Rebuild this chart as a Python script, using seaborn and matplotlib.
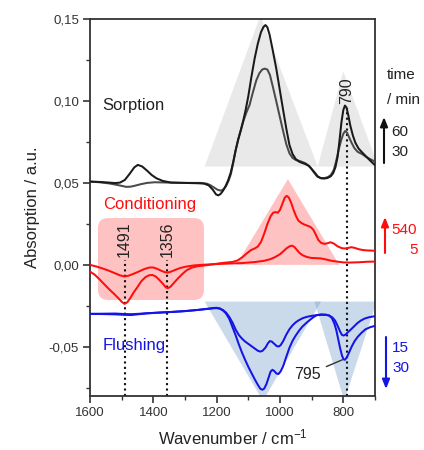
import matplotlib
matplotlib.use("Agg")
import matplotlib.pyplot as plt
import seaborn as sns
from matplotlib.patches import FancyBboxPatch, FancyArrowPatch
from matplotlib.ticker import FuncFormatter, MultipleLocator

# ---------------- data ----------------
# Sorption (black) : 60 min and 30 min
s60_wn = [1600,1570,1540,1520,1505,1490,1475,1460,1449,1435,1420,1405,1390,1370,1344,1300,1260,1240,1225,1212,1202,1195,1188,1180,1172,1164,1156,1148,1140,1132,1124,1116,1108,1100,1090,1080,1070,1060,1052,1046,1040,1033,1024,1012,1000,991,980,970,960,950,940,930,920,910,900,890,880,870,860,850,840,832,825,818,812,806,800,795,790,784,778,770,762,752,740,725,712,700]
s60 = [0.0508,0.0506,0.0502,0.0499,0.0502,0.0518,0.0555,0.0595,0.0610,0.0600,0.0575,0.0548,0.0528,0.0512,0.0502,0.0500,0.0498,0.0496,0.0485,0.0458,0.0430,0.0424,0.0432,0.0452,0.0480,0.0515,0.0560,0.0625,0.0700,0.0765,0.0820,0.0880,0.0950,0.1030,0.1150,0.1260,0.1350,0.1420,0.1452,0.1463,0.1450,0.1405,0.1320,0.1200,0.1060,0.0955,0.0830,0.0730,0.0675,0.0645,0.0630,0.0622,0.0615,0.0605,0.0585,0.0562,0.0538,0.0528,0.0527,0.0530,0.0540,0.0560,0.0595,0.0660,0.0760,0.0870,0.0945,0.0972,0.0960,0.0910,0.0850,0.0790,0.0745,0.0710,0.0685,0.0655,0.0630,0.0608]
s30_wn = [1600,1570,1540,1515,1500,1486,1472,1460,1440,1420,1396,1350,1300,1250,1230,1218,1207,1196,1186,1178,1170,1162,1155,1148,1140,1132,1124,1116,1106,1096,1086,1075,1065,1056,1048,1040,1032,1023,1012,1002,990,980,970,960,950,940,930,920,907,895,883,872,860,848,839,830,823,815,807,800,794,788,781,774,765,755,740,729,715,700]
s30 = [0.0508,0.0504,0.0497,0.0488,0.0482,0.0476,0.0477,0.0482,0.0492,0.0500,0.0504,0.0502,0.0500,0.0500,0.0495,0.0484,0.0470,0.0457,0.0453,0.0462,0.0482,0.0515,0.0555,0.0620,0.0700,0.0765,0.0820,0.0876,0.0930,0.0976,0.1050,0.1125,0.1170,0.1192,0.1197,0.1192,0.1160,0.1090,0.1000,0.0915,0.0815,0.0735,0.0680,0.0652,0.0640,0.0635,0.0628,0.0620,0.0602,0.0570,0.0540,0.0530,0.0529,0.0536,0.0549,0.0580,0.0630,0.0700,0.0760,0.0800,0.0817,0.0805,0.0775,0.0745,0.0712,0.0690,0.0675,0.0660,0.0645,0.0630]

# Conditioning (red) : 540 min and 5 min
c540_wn = [1600,1585,1570,1555,1540,1525,1512,1500,1491,1482,1472,1462,1450,1438,1425,1413,1403,1393,1382,1370,1360,1354,1345,1335,1322,1308,1295,1280,1260,1240,1210,1180,1150,1135,1120,1105,1092,1080,1070,1060,1050,1040,1030,1022,1014,1007,1000,992,985,979,972,965,958,950,942,932,922,912,903,895,887,879,870,860,850,840,830,818,805,795,785,775,765,752,740,725,710,700]
c540 = [-0.0041,-0.0060,-0.0088,-0.0118,-0.0148,-0.0175,-0.0200,-0.0225,-0.0238,-0.0228,-0.0200,-0.0168,-0.0135,-0.0100,-0.0075,-0.0063,-0.0062,-0.0070,-0.0090,-0.0115,-0.0138,-0.0142,-0.0132,-0.0110,-0.0082,-0.0055,-0.0033,-0.0018,-0.0008,-0.0004,0.0004,0.0012,0.0018,0.0026,0.0045,0.0070,0.0090,0.0100,0.0112,0.0140,0.0190,0.0248,0.0295,0.0318,0.0322,0.0318,0.0335,0.0375,0.0410,0.0421,0.0410,0.0380,0.0340,0.0300,0.0270,0.0255,0.0245,0.0238,0.0230,0.0215,0.0185,0.0152,0.0134,0.0128,0.0132,0.0138,0.0130,0.0113,0.0102,0.0100,0.0103,0.0108,0.0104,0.0096,0.0091,0.0088,0.0087,0.0086]
c5_wn = [1600,1580,1560,1540,1520,1505,1491,1478,1462,1445,1428,1412,1400,1388,1375,1363,1355,1345,1330,1315,1295,1270,1240,1200,1160,1120,1080,1050,1030,1015,1000,990,980,970,962,955,947,938,928,915,900,885,870,855,840,820,800,780,750,725,700]
c5 = [0.0000,-0.0010,-0.0022,-0.0036,-0.0052,-0.0064,-0.0071,-0.0066,-0.0054,-0.0040,-0.0025,-0.0016,-0.0016,-0.0024,-0.0036,-0.0045,-0.0047,-0.0042,-0.0030,-0.0019,-0.0010,-0.0003,0.0001,0.0005,0.0008,0.0011,0.0017,0.0025,0.0035,0.0048,0.0065,0.0082,0.0100,0.0113,0.0117,0.0110,0.0092,0.0072,0.0058,0.0048,0.0042,0.0041,0.0039,0.0033,0.0026,0.0020,0.0015,0.0014,0.0016,0.0019,0.0020]

# Flushing (blue) : 15 min and 30 min
f15_wn = [1600,1560,1520,1490,1470,1450,1420,1380,1340,1300,1260,1230,1210,1200,1190,1180,1170,1160,1150,1140,1130,1120,1110,1100,1090,1080,1070,1062,1055,1046,1038,1032,1026,1018,1010,1004,998,990,980,970,960,950,940,928,915,900,885,870,855,845,835,826,818,810,804,799,793,785,776,766,756,745,732,718,700]
f15 = [-0.0299,-0.0298,-0.0297,-0.0300,-0.0301,-0.0299,-0.0295,-0.0291,-0.0287,-0.0282,-0.0275,-0.0269,-0.0265,-0.0264,-0.0267,-0.0276,-0.0292,-0.0318,-0.0352,-0.0395,-0.0428,-0.0450,-0.0468,-0.0482,-0.0496,-0.0510,-0.0524,-0.0529,-0.0524,-0.0505,-0.0478,-0.0465,-0.0468,-0.0482,-0.0496,-0.0498,-0.0490,-0.0465,-0.0425,-0.0392,-0.0368,-0.0350,-0.0337,-0.0325,-0.0317,-0.0311,-0.0307,-0.0305,-0.0305,-0.0309,-0.0320,-0.0340,-0.0372,-0.0408,-0.0428,-0.0431,-0.0425,-0.0410,-0.0394,-0.0375,-0.0356,-0.0340,-0.0327,-0.0319,-0.0313]
f30_wn = [1600,1560,1520,1490,1470,1450,1420,1380,1340,1300,1260,1230,1210,1200,1190,1180,1170,1160,1150,1140,1130,1120,1110,1100,1090,1080,1070,1062,1056,1050,1043,1036,1030,1024,1018,1011,1005,998,990,980,970,960,950,940,930,918,905,895,885,870,855,845,836,828,822,816,810,804,799,795,789,782,774,765,755,743,730,715,700]
f30 = [-0.0299,-0.0300,-0.0302,-0.0305,-0.0306,-0.0302,-0.0296,-0.0291,-0.0287,-0.0282,-0.0275,-0.0268,-0.0263,-0.0262,-0.0266,-0.0278,-0.0298,-0.0330,-0.0380,-0.0430,-0.0485,-0.0535,-0.0580,-0.0622,-0.0660,-0.0697,-0.0732,-0.0756,-0.0762,-0.0755,-0.0728,-0.0688,-0.0652,-0.0640,-0.0648,-0.0663,-0.0666,-0.0650,-0.0618,-0.0560,-0.0505,-0.0462,-0.0430,-0.0402,-0.0378,-0.0356,-0.0335,-0.0320,-0.0307,-0.0302,-0.0304,-0.0309,-0.0325,-0.0360,-0.0400,-0.0455,-0.0510,-0.0555,-0.0577,-0.0579,-0.0565,-0.0535,-0.0500,-0.0467,-0.0440,-0.0415,-0.0393,-0.0380,-0.0372]

# band triangles (wavenumbers, absorbance)
sorp_bands_wn = [[1238, 1062, 881], [881, 800, 690]]
sorp_bands_y = [[0.060, 0.152, 0.060], [0.060, 0.118, 0.060]]
cond_bands_wn = [[1138, 975, 813]]
cond_bands_y = [[0.000, 0.0523, 0.000]]
flush_bands_wn = [[1238, 1054, 870], [891, 797, 695]]
flush_bands_y = [[-0.0224, -0.083, -0.0224], [-0.0224, -0.083, -0.0224]]

marked_wn = [1491, 1356, 790]
marked_labels = ["1491", "1356", "790"]

xticks = [1600, 1400, 1200, 1000, 800]
yticks = [-0.05, 0.00, 0.05, 0.10, 0.15]

# ---------------- style ----------------
sns.set_theme(style="ticks")
plt.rcParams['font.family'] = ['Liberation Sans', 'DejaVu Sans']
plt.rcParams['mathtext.fontset'] = 'custom'
plt.rcParams['mathtext.rm'] = 'Liberation Sans'
plt.rcParams['mathtext.it'] = 'Liberation Sans:italic'

fig = plt.figure(figsize=(4.24, 4.5), dpi=100)
ax = fig.add_axes([90/424, 54/450, 285/424, 377/450])

GRAY_FILL = '#e9e9e9'
RED_FILL = '#ffc2c2'
BLUE_FILL = (0.40, 0.58, 0.78)
RED = '#ff0d0d'
BLUE = '#1414e6'

for xs, ys in zip(sorp_bands_wn, sorp_bands_y):
    ax.fill(xs, ys, color=GRAY_FILL, lw=0, zorder=1)
for xs, ys in zip(cond_bands_wn, cond_bands_y):
    ax.fill(xs, ys, color=RED_FILL, lw=0, zorder=1)
for xs, ys in zip(flush_bands_wn, flush_bands_y):
    ax.fill(xs, ys, color=BLUE_FILL, alpha=0.34, lw=0, zorder=1)

# rounded box behind the conditioning negative bands
box = FancyBboxPatch((0.028, 0.2546), 0.372, 0.2174,
                     boxstyle="round,pad=0,rounding_size=0.035",
                     mutation_aspect=285/377,
                     transform=ax.transAxes, facecolor=RED_FILL,
                     edgecolor='none', zorder=1)
ax.add_patch(box)

lw = 1.45
sns.lineplot(x=s30_wn, y=s30, ax=ax, color='#4a4a4a', lw=lw, sort=False, zorder=3)
sns.lineplot(x=s60_wn, y=s60, ax=ax, color='#1a1a1a', lw=lw, sort=False, zorder=3)
sns.lineplot(x=c5_wn, y=c5, ax=ax, color=RED, lw=lw, sort=False, zorder=3)
sns.lineplot(x=c540_wn, y=c540, ax=ax, color=RED, lw=lw, sort=False, zorder=3)
sns.lineplot(x=f15_wn, y=f15, ax=ax, color=BLUE, lw=lw, sort=False, zorder=3)
sns.lineplot(x=f30_wn, y=f30, ax=ax, color=BLUE, lw=lw, sort=False, zorder=3)

# dotted marker lines and labels
tops = [0.003, 0.003, 0.096]
for wn, lab, top in zip(marked_wn, marked_labels, tops):
    ax.plot([wn, wn], [-0.08, top], color='#111111', lw=1.5,
            linestyle=(0, (1, 1.6)), zorder=2)
    ax.text(wn, top + 0.002, lab, rotation=90, ha='center', va='bottom',
            fontsize=11.5, color='#222222', zorder=4)

# 795 annotation
ax.annotate("795", xy=(803, -0.0579), xytext=(872, -0.0670),
            ha='right', va='center', fontsize=11.5, color='#222222',
            arrowprops=dict(arrowstyle='-', color='#333333', lw=1.0,
                            shrinkA=2, shrinkB=0))

# section labels
ax.text(1560, 0.097, "Sorption", fontsize=12, color='#222222', va='center', ha='left')
ax.text(1560, 0.0366, "Conditioning", fontsize=12, color=RED, va='center', ha='left')
ax.text(1560, -0.0494, "Flushing", fontsize=12, color=BLUE, va='center', ha='left')

# axes formatting
ax.set_xlim(1600, 700)
ax.set_ylim(-0.08, 0.15)
ax.set_xticks(xticks)
ax.set_yticks(yticks)
ax.xaxis.set_minor_locator(MultipleLocator(100))
ax.yaxis.set_minor_locator(MultipleLocator(0.025))
ax.yaxis.set_major_formatter(FuncFormatter(lambda v, p: f"{v:.2f}".replace('.', ',').replace('-0,00', '0,00')))
ax.tick_params(axis='both', which='major', length=5, width=1.2, direction='out',
               labelsize=9.5, colors='#333333', labelcolor='#333333', pad=3)
ax.tick_params(axis='both', which='minor', length=3, width=1.0, direction='out',
               colors='#333333')
for sp in ax.spines.values():
    sp.set_visible(True)
    sp.set_linewidth(1.3)
    sp.set_color('#333333')

ax.set_xlabel("Wavenumber / cm$^{-1}$", fontsize=12, color='#222222', labelpad=6)
ax.set_ylabel("Absorption / a.u.", fontsize=12, color='#222222', labelpad=6)

# right side time legend
fig.text(387/424, 1-75/450, "time", fontsize=11, color='#222222', va='center', ha='left')
fig.text(387/424, 1-100/450, "/ min", fontsize=11, color='#222222', va='center', ha='left')

def arrow(x, y0, y1, color):
    fig.add_artist(FancyArrowPatch(
        (x, y0), (x, y1), transform=fig.transFigure,
        arrowstyle='-|>,head_length=0.55,head_width=0.22', mutation_scale=10,
        color=color, lw=1.5, shrinkA=0, shrinkB=0))

arrow(384/424, 1-163/450, 1-117/450, '#111111')
fig.text(391/424, 1-132/450, "60", fontsize=11, color='#222222', va='center', ha='left')
fig.text(391/424, 1-152/450, "30", fontsize=11, color='#222222', va='center', ha='left')

arrow(385/424, 1-253/450, 1-217/450, RED)
fig.text(391/424, 1-230/450, "540", fontsize=11, color=RED, va='center', ha='left')
fig.text(418/424, 1-250/450, "5", fontsize=11, color=RED, va='center', ha='right')

arrow(386/424, 1-337/450, 1-389/450, BLUE)
fig.text(392/424, 1-348/450, "15", fontsize=11, color=BLUE, va='center', ha='left')
fig.text(392/424, 1-368/450, "30", fontsize=11, color=BLUE, va='center', ha='left')

fig.savefig("out.png", dpi=100)
